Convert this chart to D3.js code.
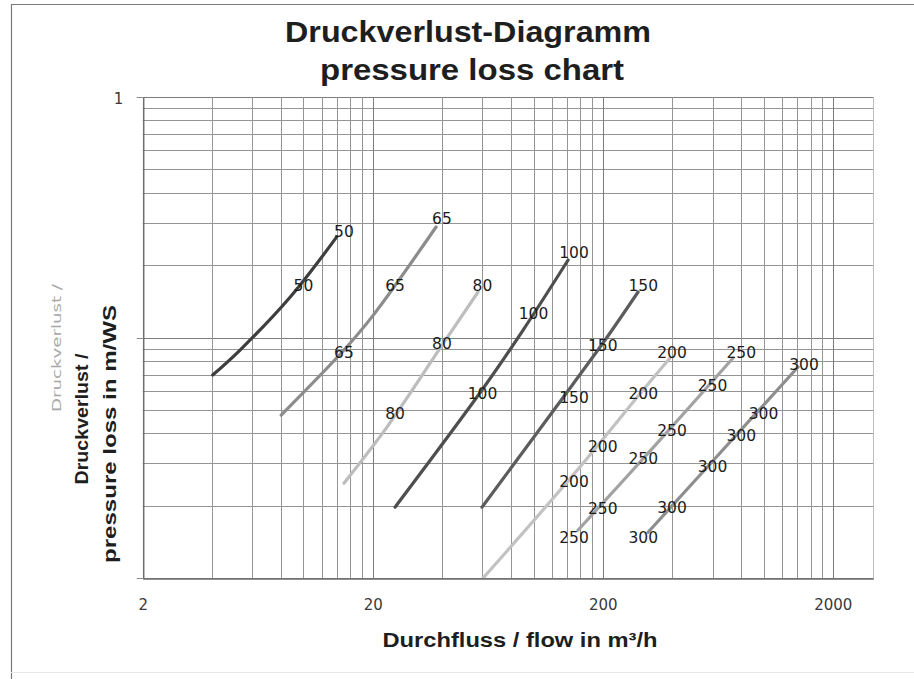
<!DOCTYPE html>
<html>
<head>
<meta charset="utf-8">
<script src="https://cdn.jsdelivr.net/npm/d3@7/dist/d3.min.js"></script>
<style>
  html, body { margin: 0; padding: 0; background: #ffffff; }
  svg { display: block; }
</style>
</head>
<body>
<div id="chart"></div>
<script>
// ---------- data ----------
const titleLines = ["Druckverlust-Diagramm", "pressure loss chart"];
const xTitle = "Durchfluss / flow in m³/h";
const yTitleLines = ["Druckverlust /", "pressure loss in m/WS"];
const yGhostTitle = "Druckverlust /";

const flowDomain = [2, 3000];          // m³/h
const pressureDomain = [0.01, 1];      // m WS

const xTickValues = [2, 20, 200, 2000];
const xTickLabels = ["2", "20", "200", "2000"];
const yTickValues = [1];
const yTickLabels = ["1"];

const seriesNames = ["50", "65", "80", "100", "150", "200", "250", "300"];

// line points: [flow, pressure loss]
const dn50  = [[4.03, 0.0698], [5.3, 0.0887], [8.74, 0.147], [13.95, 0.262]];
const dn65  = [[8.0, 0.0476], [15.0, 0.0887], [20.0, 0.123], [37.7, 0.288]];
const dn80  = [[15.0, 0.0248], [23.1, 0.0425], [40.4, 0.094], [57.4, 0.1546]];
const dn100 = [[25.0, 0.0197], [59.7, 0.0605], [90.1, 0.1074], [141.4, 0.21]];
const dn150 = [[59.7, 0.0197], [148.6, 0.0641], [204.7, 0.0976], [284.8, 0.1546]];
const dn200 = [[60.4, 0.01], [148.6, 0.0268], [299.5, 0.0605], [392, 0.0822]];
const dn250 = [[156, 0.0158], [355, 0.0375], [737, 0.0822]];
const dn300 = [[314.8, 0.0155], [647, 0.0331], [1413, 0.0754]];

// data label anchors: [flow, pressure loss]
const lab50  = [[10, 0.164], [15, 0.275]];
const lab65  = [[15, 0.087], [25, 0.165], [40, 0.314]];
const lab80  = [[25, 0.0485], [40, 0.0949], [60, 0.165]];
const lab100 = [[60, 0.0588], [100, 0.126], [150, 0.225]];
const lab150 = [[150, 0.0566], [200, 0.093], [300, 0.165]];
const lab200 = [[150, 0.0251], [200, 0.0351], [300, 0.0588], [400, 0.0871]];
const lab250 = [[150, 0.0148], [200, 0.0195], [300, 0.0313], [400, 0.0409], [600, 0.0635], [800, 0.0871]];
const lab300 = [[300, 0.0147], [400, 0.0197], [600, 0.0292], [800, 0.039], [1000, 0.0485], [1500, 0.0776]];

const seriesLines = [dn50, dn65, dn80, dn100, dn150, dn200, dn250, dn300];
const seriesLabels = [lab50, lab65, lab80, lab100, lab150, lab200, lab250, lab300];
const seriesColors = ["#3e3e3e", "#8c8c8c", "#bdbdbd", "#4e4e4e", "#5c5c5c", "#c2c2c2", "#a2a2a2", "#8e8e8e"];

// ---------- layout ----------
const W = 914, H = 679;
const plot = { left: 142.7, right: 873.3, top: 97, bottom: 578 };

const svg = d3.select("#chart").append("svg")
  .attr("width", W).attr("height", H);

svg.append("rect").attr("width", W).attr("height", H).attr("fill", "#ffffff");

// outer chart border
svg.append("line").attr("x1", 11).attr("x2", W).attr("y1", 4.5).attr("y2", 4.5)
  .attr("stroke", "#7a7a7a").attr("stroke-width", 1.2);
svg.append("line").attr("x1", 11.5).attr("x2", 11.5).attr("y1", 4).attr("y2", H)
  .attr("stroke", "#7a7a7a").attr("stroke-width", 1.2);
svg.append("line").attr("x1", 11).attr("x2", W).attr("y1", 672.5).attr("y2", 672.5)
  .attr("stroke", "#e6e6e6").attr("stroke-width", 1);

const x = d3.scaleLog().domain(flowDomain).range([plot.left, plot.right]);
const y = d3.scaleLog().domain(pressureDomain).range([plot.bottom, plot.top]);

// ---------- grid ----------
const xGrid = [];
for (let base = 2; base < flowDomain[1]; base *= 10) {
  for (let m = 1; m <= 9; m++) {
    const v = base * m;
    if (v <= flowDomain[1]) xGrid.push({ v, major: m === 1 });
  }
}
const yGrid = [];
for (let base = pressureDomain[0]; base < pressureDomain[1] * 0.999; base *= 10) {
  for (let m = 1; m <= 9; m++) yGrid.push({ v: base * m, major: m === 1 });
}
yGrid.push({ v: pressureDomain[1], major: true });

const grid = svg.append("g");
grid.selectAll("line.h").data(yGrid).join("line")
  .attr("class", "h")
  .attr("x1", plot.left).attr("x2", plot.right)
  .attr("y1", d => Math.round(y(d.v)) + 0.5).attr("y2", d => Math.round(y(d.v)) + 0.5)
  .attr("stroke", d => d.major ? "#7c7c7c" : "#959595").attr("stroke-width", 1);
grid.selectAll("line.v").data(xGrid).join("line")
  .attr("class", "v")
  .attr("y1", plot.top).attr("y2", plot.bottom)
  .attr("x1", d => Math.round(x(d.v)) + 0.5).attr("x2", d => Math.round(x(d.v)) + 0.5)
  .attr("stroke", d => d.major ? "#7c7c7c" : "#959595").attr("stroke-width", 1);
// right border of plot
grid.append("line")
  .attr("x1", Math.round(x(flowDomain[1])) + 0.5).attr("x2", Math.round(x(flowDomain[1])) + 0.5)
  .attr("y1", plot.top).attr("y2", plot.bottom)
  .attr("stroke", "#bdbdbd").attr("stroke-width", 1);

// ---------- axes ----------
const xAxis = d3.axisBottom(x).tickValues(xTickValues)
  .tickFormat((d, i) => xTickLabels[i]).tickSize(0).tickPadding(21);
const gx = svg.append("g").attr("transform", `translate(0,${plot.bottom + 0.5})`).call(xAxis);
gx.select(".domain").attr("stroke", "#6e6e6e").attr("stroke-width", 1.5);
gx.selectAll("text").attr("font-family", "DejaVu Sans, sans-serif").attr("font-size", 15)
  .attr("fill", "#3a3a3a");

const yAxis = d3.axisLeft(y).tickValues(yTickValues)
  .tickFormat((d, i) => yTickLabels[i]).tickSize(0).tickPadding(20);
const gy = svg.append("g").attr("transform", `translate(${plot.left + 0.5},2)`).call(yAxis);
gy.select(".domain").attr("stroke", "#6e6e6e").attr("stroke-width", 1.5)
  .attr("transform", "translate(0,-2)");
gy.selectAll("text").attr("font-family", "DejaVu Sans, sans-serif").attr("font-size", 15)
  .attr("fill", "#3a3a3a");
// major tick stubs on the value axis
svg.append("g").selectAll("line").data([0.01, 0.1, 1]).join("line")
  .attr("x1", plot.left - 6).attr("x2", plot.left)
  .attr("y1", d => Math.round(y(d)) + 0.5).attr("y2", d => Math.round(y(d)) + 0.5)
  .attr("stroke", "#8a8a8a").attr("stroke-width", 1);

// ---------- series ----------
svg.append("clipPath").attr("id", "plotclip").append("rect")
  .attr("x", plot.left).attr("y", plot.top)
  .attr("width", plot.right - plot.left).attr("height", plot.bottom - plot.top);

const line = d3.line().x(d => x(d[0])).y(d => y(d[1])).curve(d3.curveCatmullRom.alpha(0.5));
const gLines = svg.append("g").attr("clip-path", "url(#plotclip)");
gLines.selectAll("path").data(seriesLines).join("path")
  .attr("d", line)
  .attr("fill", "none")
  .attr("stroke", (d, i) => seriesColors[i])
  .attr("stroke-width", 3.2)
  .attr("stroke-linecap", "round")
  .attr("stroke-linejoin", "round");

// data labels (series name)
const labelData = [];
seriesLabels.forEach((arr, i) => arr.forEach(p => labelData.push({ name: seriesNames[i], p })));
svg.append("g").selectAll("text").data(labelData).join("text")
  .attr("x", d => x(d.p[0]))
  .attr("y", d => y(d.p[1]))
  .attr("dy", "0.36em")
  .attr("text-anchor", "middle")
  .attr("font-family", "DejaVu Sans, sans-serif")
  .attr("font-size", 15.5)
  .attr("fill", "#1c1c1c")
  .text(d => d.name);

// ---------- titles ----------
const titleG = svg.append("g").attr("font-family", "Liberation Sans, Arial, sans-serif")
  .attr("font-weight", "bold").attr("fill", "#1e1e1e").attr("text-anchor", "middle")
  .attr("lengthAdjust", "spacingAndGlyphs");
titleG.append("text").attr("x", 468).attr("y", 42).attr("font-size", 30)
  .attr("textLength", 366).attr("lengthAdjust", "spacingAndGlyphs")
  .text(titleLines[0]);
titleG.append("text").attr("x", 472).attr("y", 80).attr("font-size", 30)
  .attr("textLength", 304).attr("lengthAdjust", "spacingAndGlyphs")
  .text(titleLines[1]);

svg.append("text").attr("x", 520).attr("y", 647)
  .attr("text-anchor", "middle")
  .attr("font-family", "Liberation Sans, Arial, sans-serif")
  .attr("font-weight", "bold").attr("font-size", 20).attr("fill", "#1e1e1e")
  .attr("textLength", 275).attr("lengthAdjust", "spacingAndGlyphs")
  .text(xTitle);

const yt = svg.append("g").attr("font-family", "Liberation Sans, Arial, sans-serif")
  .attr("font-weight", "bold").attr("fill", "#1e1e1e").attr("text-anchor", "middle");
yt.append("text").attr("transform", "translate(88,419) rotate(-90)")
  .attr("font-size", 19).attr("textLength", 131).attr("lengthAdjust", "spacingAndGlyphs")
  .text(yTitleLines[0]);
yt.append("text").attr("transform", "translate(116,434) rotate(-90)")
  .attr("font-size", 19).attr("textLength", 258).attr("lengthAdjust", "spacingAndGlyphs")
  .text(yTitleLines[1]);

svg.append("text").attr("transform", "translate(61,348) rotate(-90)")
  .attr("text-anchor", "middle")
  .attr("font-family", "DejaVu Sans, sans-serif").attr("font-size", 12)
  .attr("fill", "#a8a8a8").attr("textLength", 128).attr("lengthAdjust", "spacingAndGlyphs")
  .text(yGhostTitle);
</script>
</body>
</html>
